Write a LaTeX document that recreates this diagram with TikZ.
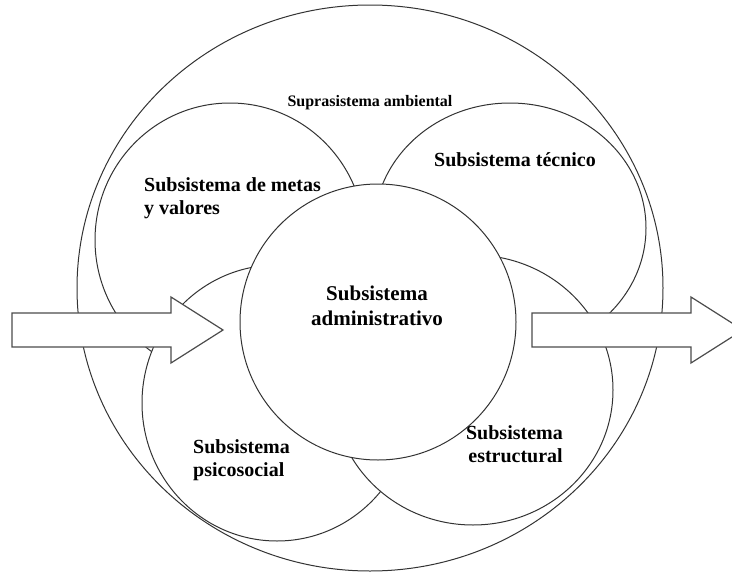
\documentclass[tikz,border=0pt]{standalone}
\usepackage{fontspec}
\setmainfont{Liberation Serif}
\begin{document}
\begin{tikzpicture}[x=1pt,y=-1pt,
    sub/.style={draw=black!80,line width=1pt,fill=white},
    flecha/.style={draw=black!70,line width=1.2pt,fill=white},
    lbl/.style={font=\bfseries\fontsize{20}{23}\selectfont,inner sep=0pt}]
  \useasboundingbox (0,0) rectangle (732,573);
  \clip (0,0) rectangle (732,573);
  % suprasistema (outer)
  \draw[sub] (370,288) ellipse [x radius=293, y radius=283];
  % metas y valores
  \draw[sub] (230,240) ellipse [x radius=135, y radius=137];
  % tecnico
  \draw[sub] (510,228) ellipse [x radius=136, y radius=125];
  % psicosocial
  \draw[sub] (277,403) ellipse [x radius=135, y radius=138];
  % estructural
  \draw[sub] (473,390) ellipse [x radius=140, y radius=135];
  % administrativo
  \draw[sub] (378,322) circle [radius=138];
  % input and output arrows
  \draw[flecha] (12,313) -- (171,313) -- (171,297) -- (223,330) -- (171,363) -- (171,347) -- (12,347) -- cycle;
  \draw[flecha] (532,313) -- (691,313) -- (691,297) -- (743,330) -- (691,363) -- (691,347) -- (532,347) -- cycle;
  % labels
  \node[lbl,font=\bfseries\fontsize{16}{18}\selectfont] (supra) at (370,103) {Suprasistema ambiental};
  \node[lbl,align=left,anchor=west] (metas) at (144,198) {Subsistema de metas\\y valores};
  \node[lbl] (tecnico) at (515,160) {Subsistema técnico};
  \node[lbl,align=center,font=\bfseries\fontsize{21}{25}\selectfont] (admin) at (377,306) {Subsistema\\administrativo};
  \node[lbl,align=left,anchor=west] (psico) at (193,460) {Subsistema\\psicosocial};
  \node[lbl,align=right,anchor=east] (estruct) at (563,444) {Subsistema\\estructural};
\end{tikzpicture}
\end{document}
